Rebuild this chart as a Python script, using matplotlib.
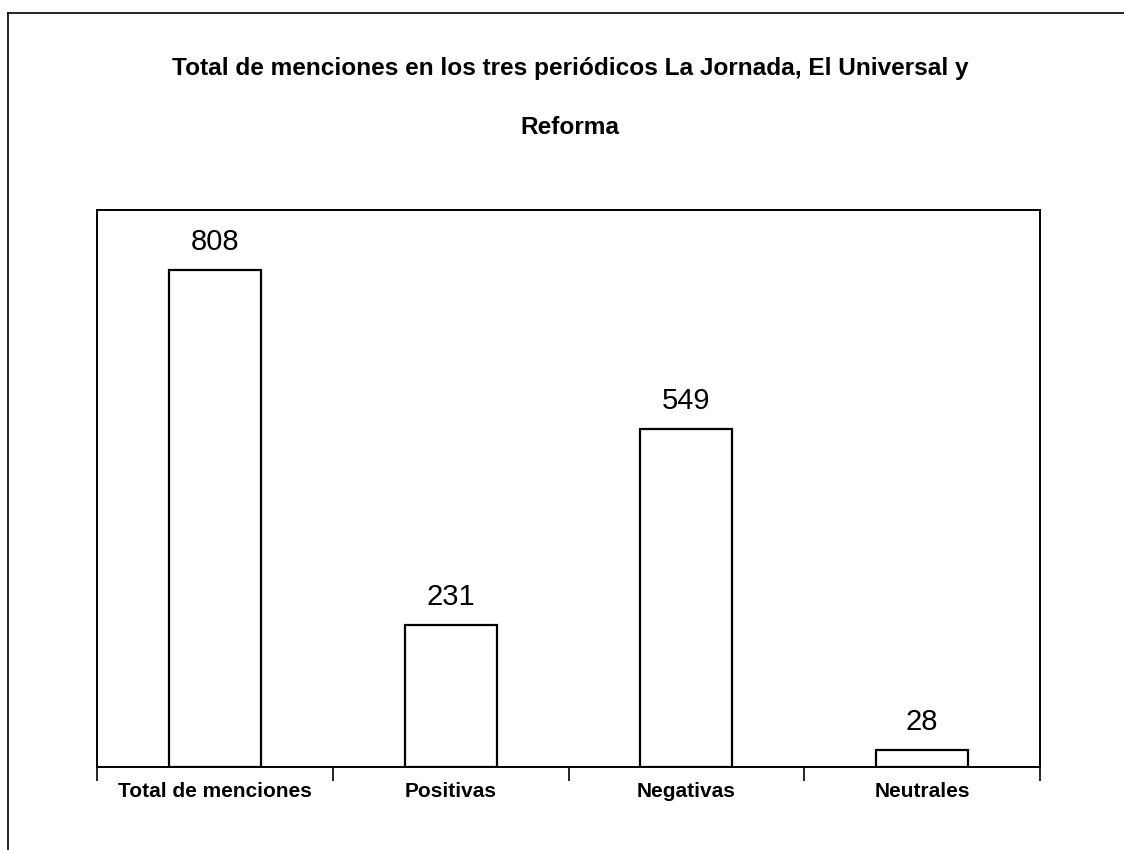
import matplotlib
matplotlib.use("Agg")
import matplotlib.pyplot as plt
from matplotlib.lines import Line2D

categories = ["Total de menciones", "Positivas", "Negativas", "Neutrales"]
values = [808, 231, 549, 28]
title_line1 = "Total de menciones en los tres periódicos La Jornada, El Universal y"
title_line2 = "Reforma"

FONT = ["Liberation Sans", "DejaVu Sans"]
W, H = 1124, 850
fig = plt.figure(figsize=(W / 100, H / 100), dpi=100)
fig.patch.set_facecolor("white")

ax = fig.add_axes([97 / W, 1 - 767 / H, (1040 - 97) / W, (767 - 210) / H])
x = list(range(len(categories)))
ax.bar(x, values, width=0.39, facecolor="white", edgecolor="black", linewidth=1.6)
ax.set_xlim(-0.5, len(categories) - 0.5)
ax.set_ylim(0, 905)
ax.set_yticks([])
ax.set_xticks(x)
ax.set_xticklabels(categories, family=FONT, fontsize=15, fontweight="bold")
ax.tick_params(axis="x", which="major", length=0, pad=11)
ax.set_xticks([i - 0.5 for i in range(len(categories) + 1)], minor=True)
ax.tick_params(axis="x", which="minor", length=10, width=1.2, direction="out")
for s in ax.spines.values():
    s.set_linewidth(1.4)

for xi, v in zip(x, values):
    ax.annotate(str(v), (xi, v), xytext=(0, 10), textcoords="offset points",
                ha="center", va="bottom", family=FONT, fontsize=21)

fig.text(570 / W, 1 - 68 / H, title_line1, ha="center", va="center",
         family=FONT, fontsize=17.6, fontweight="bold")
fig.text(570 / W, 1 - 128 / H, title_line2, ha="center", va="center",
         family=FONT, fontsize=17.6, fontweight="bold")

# outer frame (left and top edges visible in the scan)
fig.add_artist(Line2D([8 / W, 8 / W], [0, 1 - 13 / H], transform=fig.transFigure,
                      color="black", linewidth=1.2))
fig.add_artist(Line2D([8 / W, 1], [1 - 13 / H, 1 - 13 / H], transform=fig.transFigure,
                      color="black", linewidth=1.2))

fig.savefig("out.png", dpi=100)
